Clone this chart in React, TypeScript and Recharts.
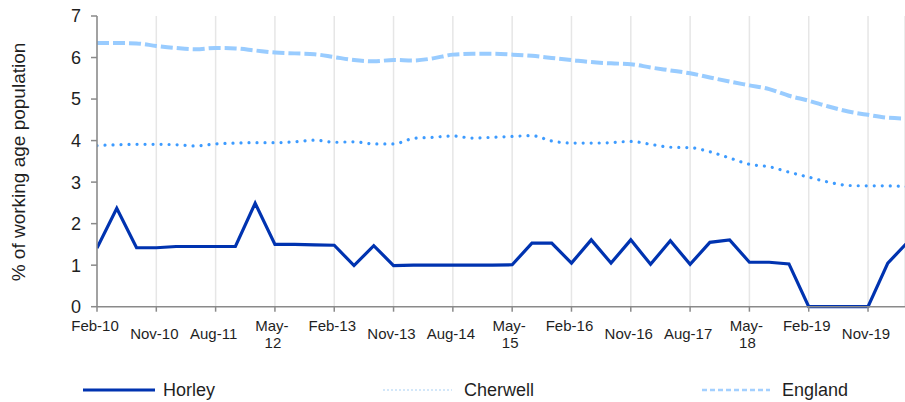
import React from 'react';
import { LineChart, Line, XAxis, YAxis, CartesianGrid, Label } from 'recharts';

const periods = [
  'Feb-10', 'May-10', 'Aug-10', 'Nov-10', 'Feb-11', 'May-11', 'Aug-11', 'Nov-11',
  'Feb-12', 'May-12', 'Aug-12', 'Nov-12', 'Feb-13', 'May-13', 'Aug-13', 'Nov-13',
  'Feb-14', 'May-14', 'Aug-14', 'Nov-14', 'Feb-15', 'May-15', 'Aug-15', 'Nov-15',
  'Feb-16', 'May-16', 'Aug-16', 'Nov-16', 'Feb-17', 'May-17', 'Aug-17', 'Nov-17',
  'Feb-18', 'May-18', 'Aug-18', 'Nov-18', 'Feb-19', 'May-19', 'Aug-19', 'Nov-19',
  'Feb-20', 'May-20',
];

const tickLabels = [
  'Feb-10', 'Nov-10', 'Aug-11', 'May-12', 'Feb-13', 'Nov-13', 'Aug-14',
  'May-15', 'Feb-16', 'Nov-16', 'Aug-17', 'May-18', 'Feb-19', 'Nov-19',
];

const horley = [
  1.41, 2.37, 1.42, 1.42, 1.45, 1.45, 1.45, 1.45, 2.49, 1.5, 1.5, 1.49,
  1.48, 0.99, 1.47, 0.99, 1.0, 1.0, 1.0, 1.0, 1.0, 1.01, 1.53, 1.53,
  1.05, 1.61, 1.05, 1.61, 1.02, 1.59, 1.02, 1.55, 1.61, 1.07, 1.07, 1.03,
  0, 0, 0, 0, 1.05, 1.55,
];

const cherwell = [
  3.88, 3.9, 3.91, 3.91, 3.9, 3.87, 3.92, 3.94, 3.95, 3.95, 3.97, 4.01,
  3.96, 3.97, 3.92, 3.92, 4.05, 4.08, 4.11, 4.06, 4.08, 4.1, 4.12, 3.99,
  3.94, 3.94, 3.95, 3.98, 3.91, 3.84, 3.83, 3.73, 3.58, 3.43, 3.37, 3.24,
  3.12, 3.0, 2.92, 2.91, 2.91, 2.89,
];

const england = [
  6.35, 6.35, 6.34, 6.28, 6.23, 6.2, 6.23, 6.22, 6.17, 6.12, 6.1, 6.08,
  6.01, 5.94, 5.91, 5.94, 5.93, 5.98, 6.07, 6.09, 6.09, 6.07, 6.04, 5.99,
  5.94, 5.89, 5.86, 5.84, 5.76, 5.69, 5.62, 5.52, 5.42, 5.33, 5.24, 5.08,
  4.96, 4.82, 4.7, 4.62, 4.55, 4.53,
];

const yTicks = [0, 1, 2, 3, 4, 5, 6, 7];

const data = periods.map((p, i) => ({
  idx: i,
  period: p,
  Horley: horley[i],
  Cherwell: cherwell[i],
  England: england[i],
}));

const xTicks = tickLabels.map((l) => periods.indexOf(l));

const FONT = '"Liberation Sans", Arial, sans-serif';

const XTick = (props: any) => {
  const { x, y, payload } = props;
  const label = periods[payload.value] || '';
  const [mon, yr] = label.split('-');
  if (mon === 'May') {
    return (
      <g>
        <text x={x - 3} y={y + 19.5} textAnchor="middle" fontSize={15} fill="#1f1f1f" fontFamily={FONT}>{mon + '-'}</text>
        <text x={x - 2} y={y + 36.5} textAnchor="middle" fontSize={15} fill="#1f1f1f" fontFamily={FONT}>{yr}</text>
      </g>
    );
  }
  const dy = mon === 'Feb' ? 19.5 : 27.5;
  return (
    <text x={x - 2} y={y + dy} textAnchor="middle" fontSize={15} fill="#1f1f1f" fontFamily={FONT}>{label}</text>
  );
};

const YLabel = () => (
  <text
    x={18}
    y={162}
    transform="rotate(-90, 18, 162)"
    textAnchor="middle"
    dominantBaseline="central"
    fontSize={19}
    fill="#1f1f1f"
    fontFamily={FONT}
  >
    % of working age population
  </text>
);

const legendItems = [
  { name: 'Horley', x1: 83, x2: 155, tx: 163, stroke: '#0033b0', width: 3, dash: undefined },
  { name: 'Cherwell', x1: 383, x2: 452, tx: 464, stroke: '#d3e7f9', width: 2, dash: '2 2' },
  { name: 'England', x1: 702, x2: 770, tx: 782, stroke: '#a3d0ff', width: 2.5, dash: '5 3' },
];

export default function App() {
  return (
    <div style={{ position: 'absolute', left: 0, top: 0, width: 905, height: 402, overflow: 'hidden', background: '#fff' }}>
      <LineChart width={905} height={402} data={data} margin={{ top: 16, right: 0, bottom: 0, left: 0 }}>
        <CartesianGrid horizontal={false} stroke="#e6e6e6" strokeWidth={1.5} />
        <XAxis
          dataKey="idx"
          type="number"
          domain={[0, 40.87]}
          allowDataOverflow
          ticks={xTicks}
          interval={0}
          height={95.3}
          tickSize={5}
          tickMargin={0}
          stroke="#8a8a8a"
          strokeWidth={1.5}
          tick={<XTick />}
        />
        <YAxis
          type="number"
          domain={[0, 7]}
          ticks={yTicks}
          width={97}
          tickSize={6}
          tickMargin={10}
          stroke="#8a8a8a"
          strokeWidth={1.5}
          tick={{ fontSize: 18, fill: '#1f1f1f', fontFamily: FONT }}
        >
          <Label content={<YLabel />} />
        </YAxis>
        <Line
          type="monotone"
          dataKey="England"
          stroke="#99ccff"
          strokeWidth={4}
          strokeDasharray="12 4"
          dot={false}
          activeDot={false}
          isAnimationActive={false}
        />
        <Line
          type="monotone"
          dataKey="Cherwell"
          stroke="#3d9bff"
          strokeWidth={3.2}
          strokeDasharray="0.01 8"
          strokeLinecap="round"
          dot={false}
          activeDot={false}
          isAnimationActive={false}
        />
        <Line
          type="linear"
          dataKey="Horley"
          stroke="#0033b0"
          strokeWidth={3.2}
          dot={false}
          activeDot={false}
          isAnimationActive={false}
        />
      </LineChart>
      <svg width={905} height={40} style={{ position: 'absolute', left: 0, top: 370 }}>
        {legendItems.map((it) => (
          <g key={it.name}>
            <line x1={it.x1} x2={it.x2} y1={20} y2={20} stroke={it.stroke} strokeWidth={it.width} strokeDasharray={it.dash} />
            <text x={it.tx} y={26} fontSize={18} fill="#1f1f1f" fontFamily={FONT}>{it.name}</text>
          </g>
        ))}
      </svg>
    </div>
  );
}
